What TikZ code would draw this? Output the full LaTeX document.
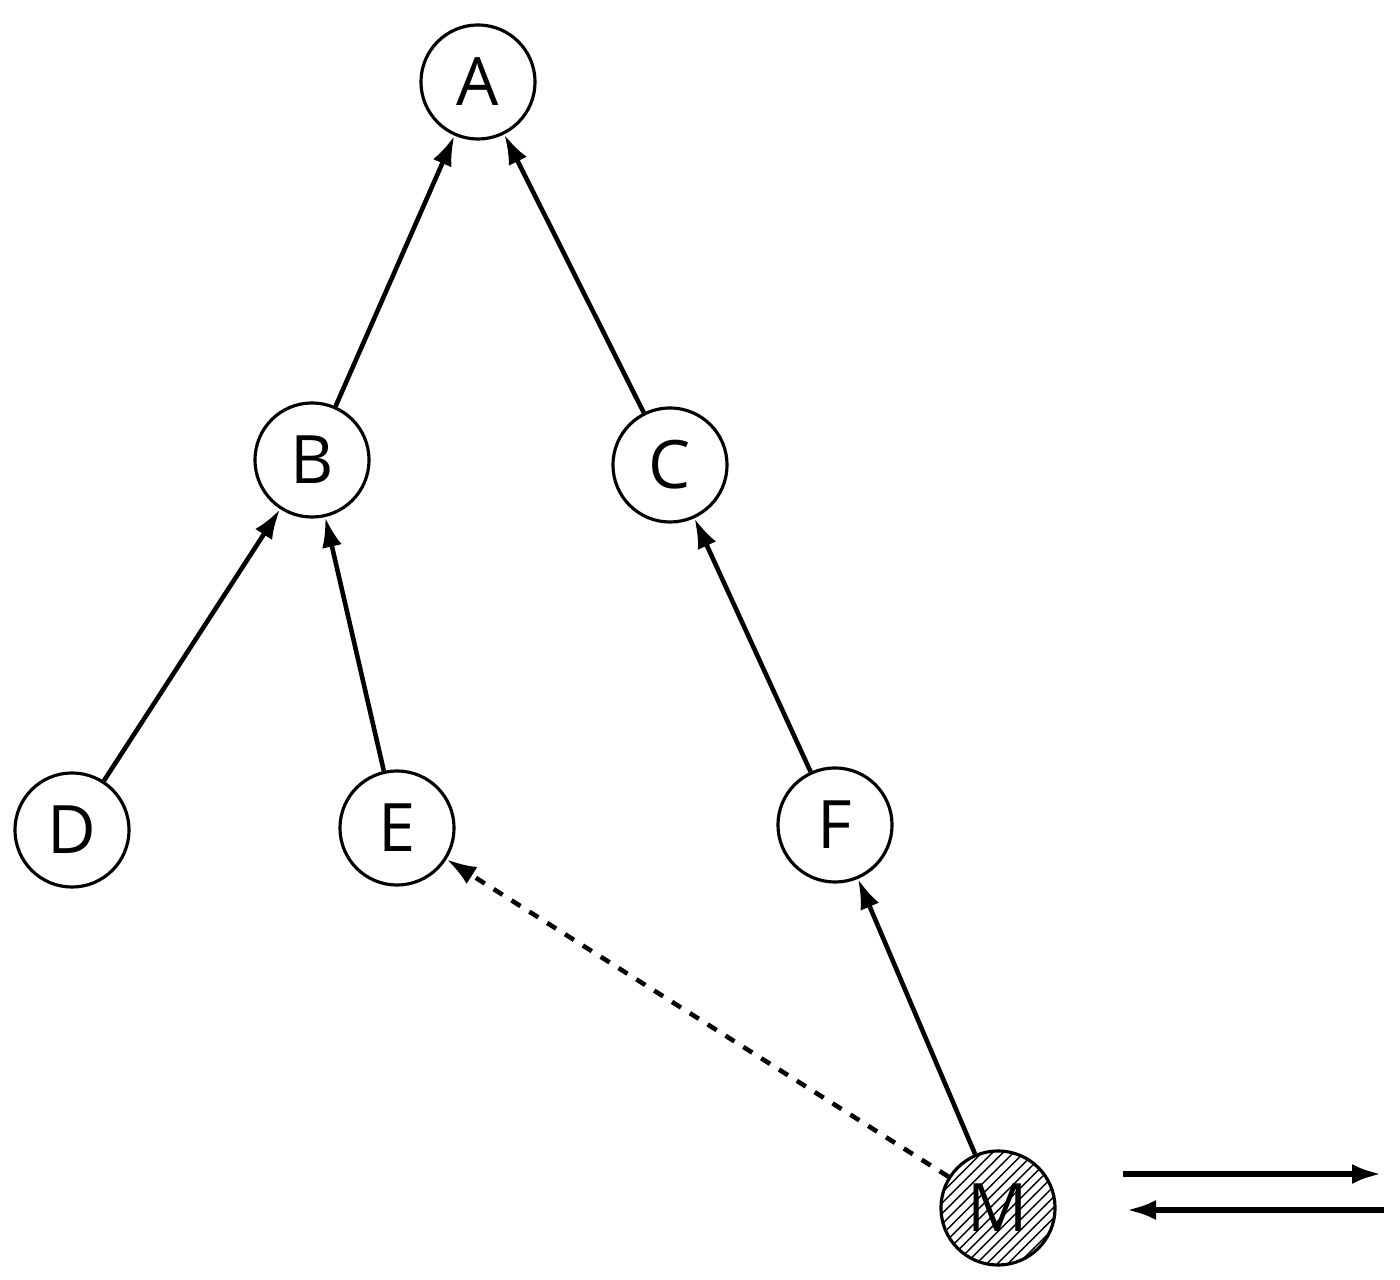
\documentclass[tikz,border=0pt]{standalone}
\usepackage{fontspec}
\setmainfont{Open Sans}
\usetikzlibrary{patterns,arrows.meta}
\begin{document}
\begin{tikzpicture}[x=0.01cm,y=-0.01cm,
  n/.style={circle,draw,line width=0.9pt,minimum size=1.14cm,inner sep=0pt,font=\fontsize{19}{21}\selectfont},
  e/.style={-{Latex[length=3mm,width=2mm]},line width=1.3pt}]
\useasboundingbox (0,0) rectangle (1400,1280);
\node[n] (A) at (478,82) {A};
\node[n] (B) at (312,460) {B};
\node[n] (C) at (670,465) {C};
\node[n] (D) at (72,830) {D};
\node[n] (E) at (397,828) {E};
\node[n] (F) at (835,825) {F};
\node[n,pattern=north east lines] (M) at (998,1208) {M};
\draw[e] (B) -- (A);
\draw[e] (C) -- (A);
\draw[e] (D) -- (B);
\draw[e] (E) -- (B);
\draw[e] (F) -- (C);
\draw[e] (M) -- (F);
\draw[e,dashed] (M) -- (E);
\coordinate (r1) at (1123,1174); \coordinate (r2) at (1382,1174);
\coordinate (l1) at (1384,1210); \coordinate (l2) at (1126,1210);
\draw[e,line width=1.8pt] (r1) -- (r2);
\draw[e,line width=1.8pt] (l1) -- (l2);
\end{tikzpicture}
\end{document}
